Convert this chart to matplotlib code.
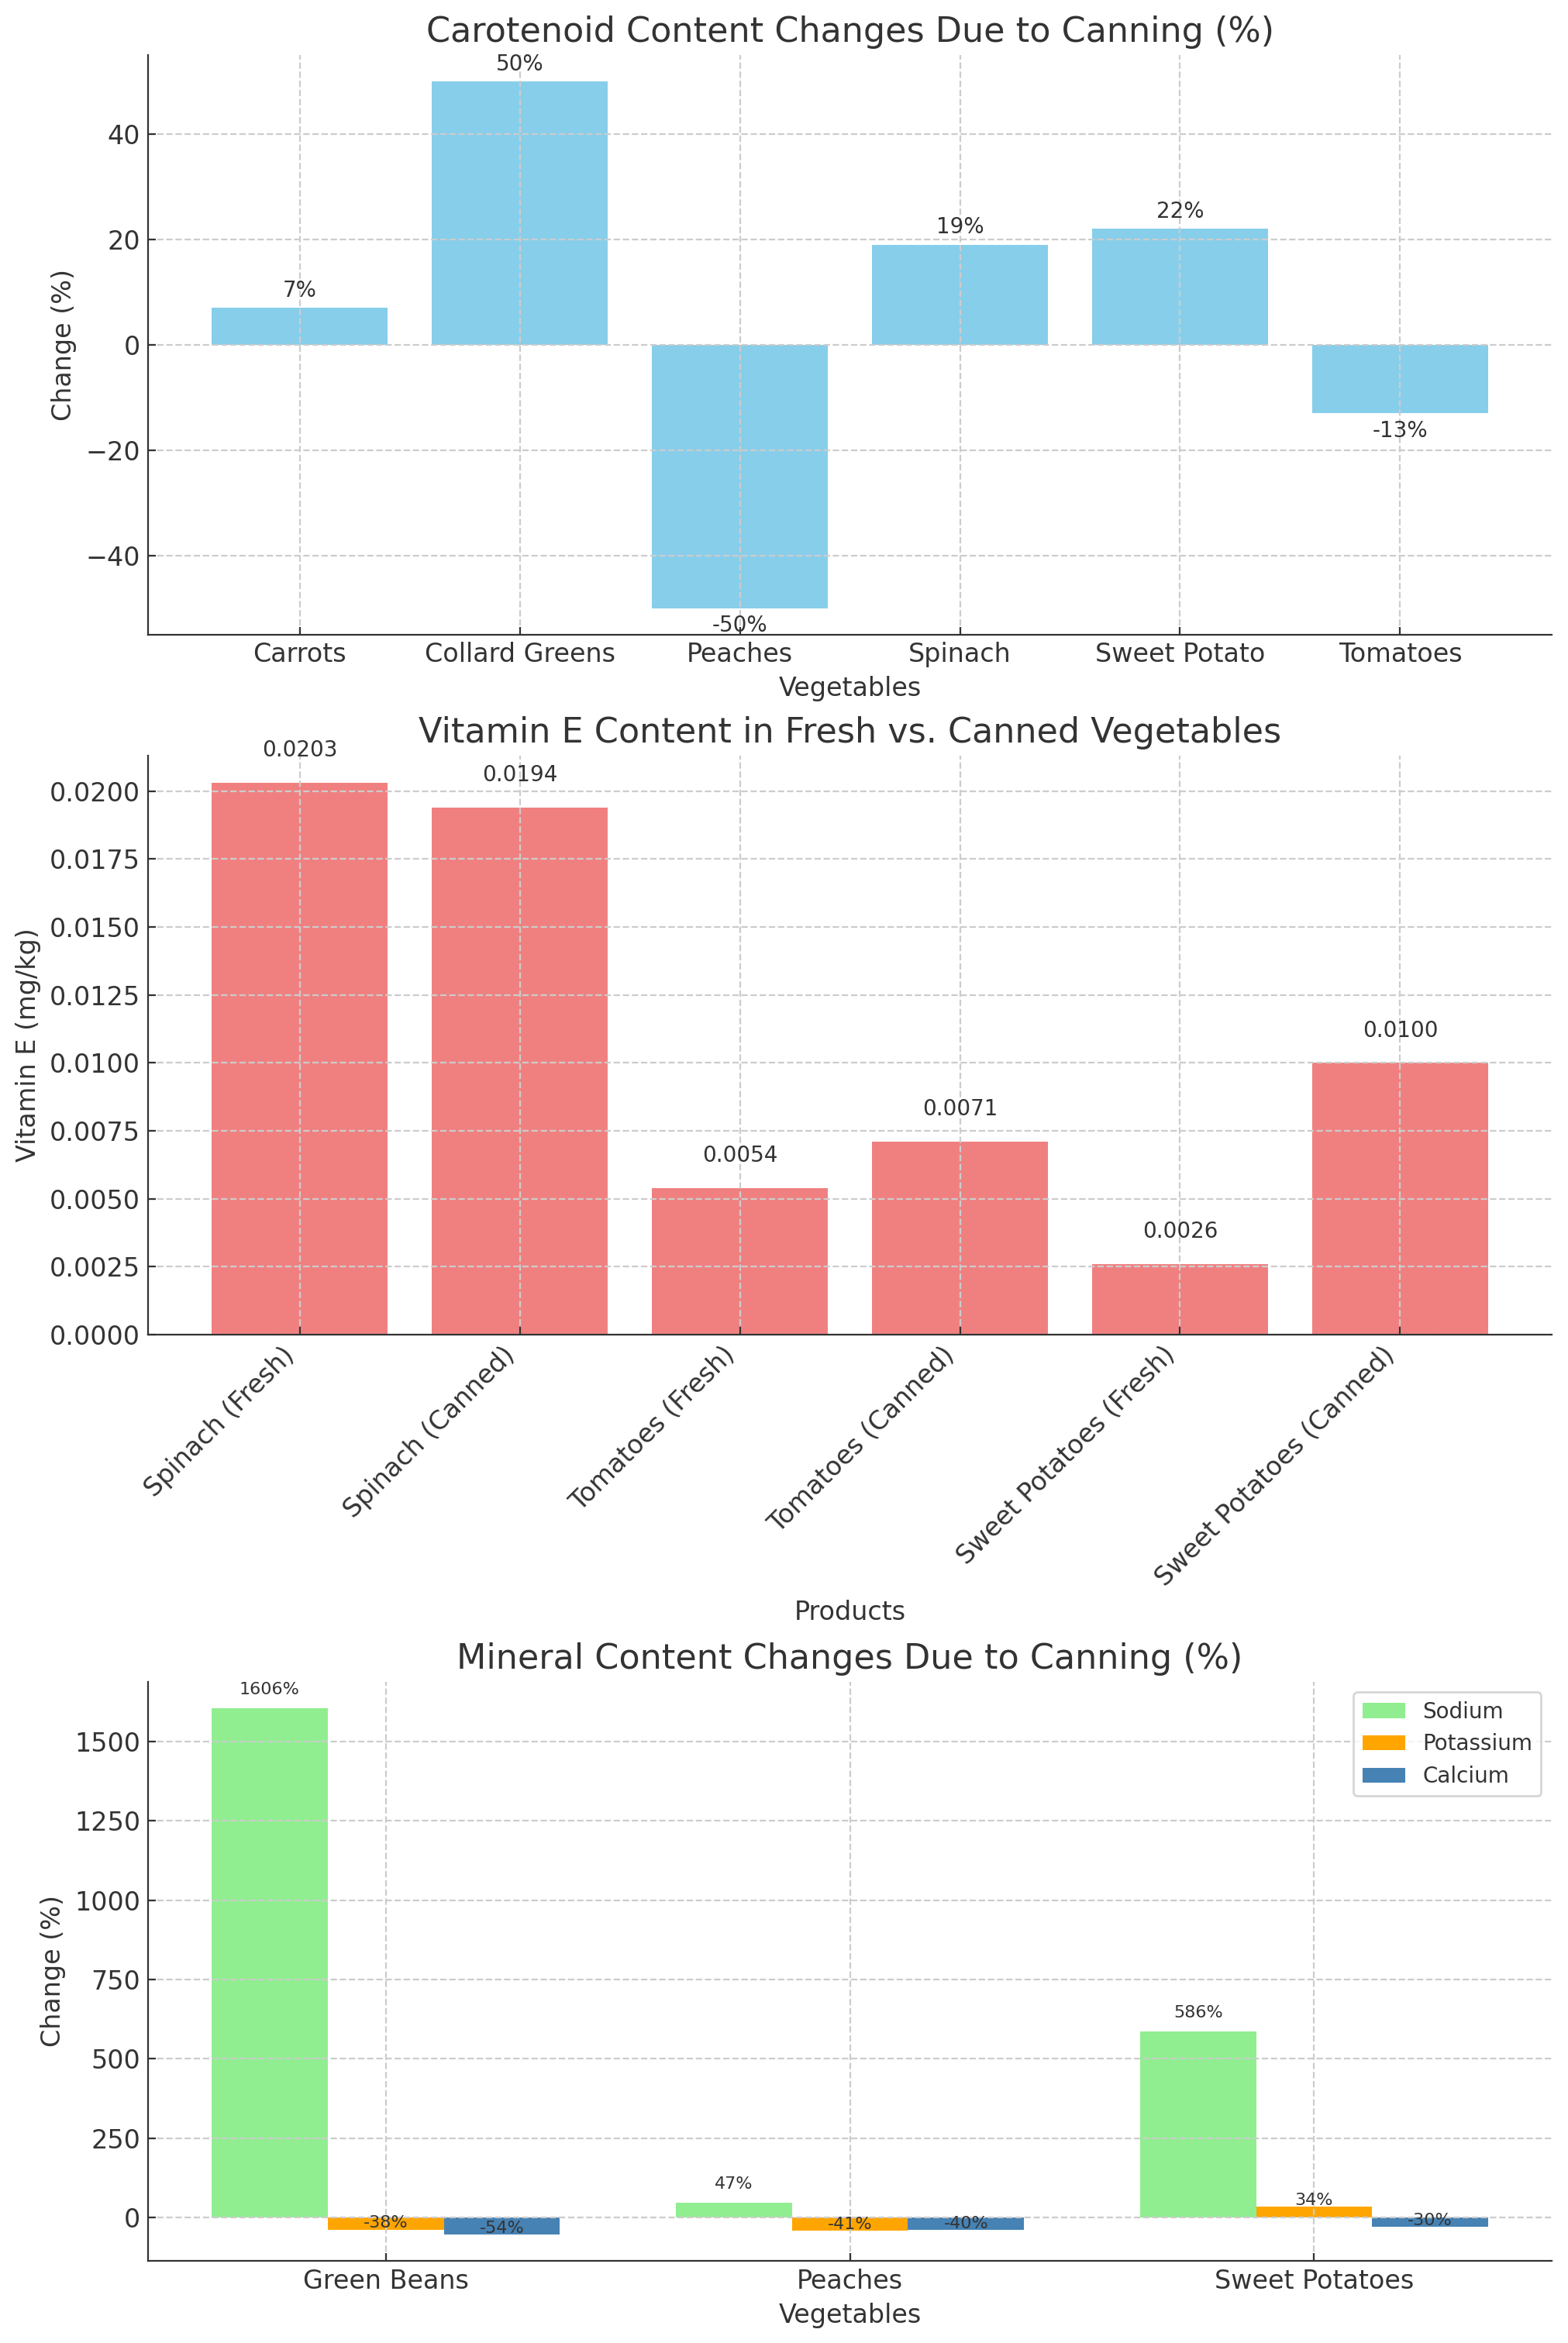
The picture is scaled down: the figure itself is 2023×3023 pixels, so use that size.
import matplotlib
matplotlib.use("Agg")
import matplotlib.pyplot as plt
import numpy as np

# Carotenoid changes
carot_veg = ['Carrots', 'Collard Greens', 'Peaches', 'Spinach', 'Sweet Potato', 'Tomatoes']
carot_change = [7, 50, -50, 19, 22, -13]

# Vitamin E content
vite_products = ['Spinach (Fresh)', 'Spinach (Canned)', 'Tomatoes (Fresh)', 'Tomatoes (Canned)',
                 'Sweet Potatoes (Fresh)', 'Sweet Potatoes (Canned)']
vite_values = [0.0203, 0.0194, 0.0054, 0.0071, 0.0026, 0.0100]

# Mineral changes
mineral_veg = ['Green Beans', 'Peaches', 'Sweet Potatoes']
sodium = [1606, 47, 586]
potassium = [-38, -41, 34]
calcium = [-54, -40, -30]

dark = '#333333'
plt.rcParams.update({
    'font.family': 'DejaVu Sans',
    'text.color': dark,
    'axes.labelcolor': dark,
    'axes.edgecolor': dark,
    'xtick.color': dark,
    'ytick.color': dark,
    'xtick.direction': 'in',
    'ytick.direction': 'in',
    'xtick.labelsize': 12,
    'ytick.labelsize': 12,
    'axes.labelsize': 12,
    'axes.titlesize': 16,
    'axes.spines.top': False,
    'axes.spines.right': False,
})

fig = plt.figure(figsize=(10.115, 15.115), dpi=200)
ax1 = fig.add_axes([0.0943, 0.7292, 0.8955, 0.2473])
ax2 = fig.add_axes([0.0943, 0.4304, 0.8955, 0.2472])
ax3 = fig.add_axes([0.0943, 0.0350, 0.8955, 0.2473])


def style(ax):
    ax.grid(True, linestyle='--', color='#cccccc', linewidth=0.8)
    ax.set_axisbelow(False)
    for s in ax.spines.values():
        s.set_zorder(5)


# 1. Carotenoid
x = np.arange(len(carot_veg))
bars = ax1.bar(x, carot_change, color='skyblue', width=0.8)
for b, v in zip(bars, carot_change):
    if v >= 0:
        ax1.annotate(f'{v}%', (b.get_x() + b.get_width() / 2, v), xytext=(0, 3),
                     textcoords='offset points', ha='center', va='bottom', fontsize=10)
    else:
        ax1.annotate(f'{v}%', (b.get_x() + b.get_width() / 2, v), xytext=(0, -3),
                     textcoords='offset points', ha='center', va='top', fontsize=10)
ax1.set_xticks(x)
ax1.set_xticklabels(carot_veg)
ax1.set_title('Carotenoid Content Changes Due to Canning (%)')
ax1.set_xlabel('Vegetables')
ax1.set_ylabel('Change (%)')
style(ax1)

# 2. Vitamin E
x = np.arange(len(vite_products))
bars = ax2.bar(x, vite_values, color='lightcoral', width=0.8)
for b, v in zip(bars, vite_values):
    ax2.annotate(f'{v:.4f}', (b.get_x() + b.get_width() / 2, v), xytext=(0, 10),
                 textcoords='offset points', ha='center', va='bottom', fontsize=10)
ax2.set_xticks(x)
ax2.set_xticklabels(vite_products, rotation=45, ha='right')
ax2.set_title('Vitamin E Content in Fresh vs. Canned Vegetables')
ax2.set_xlabel('Products')
ax2.set_ylabel('Vitamin E (mg/kg)')
style(ax2)

# 3. Minerals
x = np.arange(len(mineral_veg))
w = 0.25
b_na = ax3.bar(x - w, sodium, w, color='lightgreen', label='Sodium')
b_k = ax3.bar(x, potassium, w, color='orange', label='Potassium')
b_ca = ax3.bar(x + w, calcium, w, color='steelblue', label='Calcium')
for b, v in zip(b_na, sodium):
    ax3.annotate(f'{v}%', (b.get_x() + b.get_width() / 2, v), xytext=(0, 5),
                 textcoords='offset points', ha='center', va='bottom', fontsize=8)
for group, vals in [(b_k, potassium), (b_ca, calcium)]:
    for b, v in zip(group, vals):
        ax3.annotate(f'{v}%', (b.get_x() + b.get_width() / 2, v), xytext=(0, 3),
                     textcoords='offset points', ha='center', va='center', fontsize=8)
ax3.set_xticks(x)
ax3.set_xticklabels(mineral_veg)
ax3.set_title('Mineral Content Changes Due to Canning (%)')
ax3.set_xlabel('Vegetables')
ax3.set_ylabel('Change (%)')
ax3.legend(loc='upper right', fontsize=10)
style(ax3)

fig.savefig('out.png', dpi=200)
